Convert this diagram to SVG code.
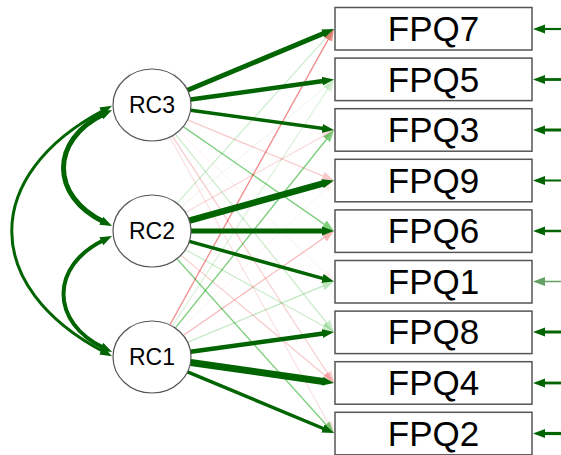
<svg xmlns="http://www.w3.org/2000/svg" width="561" height="455" viewBox="0 0 561 455">
  <style>
    .bg { fill: #ffffff; }
    .latent ellipse { fill: #ffffff; stroke: #555555; stroke-width: 1.2; }
    .latent text { font-family: "Liberation Sans", Arial, sans-serif; font-size: 23px; fill: #000000; text-anchor: middle; }
    .item rect { fill: #ffffff; stroke: #555555; stroke-width: 1.5; }
    .item text { font-family: "Liberation Sans", Arial, sans-serif; font-size: 35px; fill: #000000; text-anchor: middle; }
    .pos { fill: none; stroke: #006400; marker-end: url(#head-g); }
    .wpos { fill: none; stroke: #00a000; marker-end: url(#head-lg); }
    .neg { fill: none; stroke: #e00000; marker-end: url(#head-r); }
    .cov { fill: none; stroke: #006400; marker-start: url(#head-g); marker-end: url(#head-g); }
  </style>
  <defs>
    <marker id="head-g" markerUnits="userSpaceOnUse" viewBox="0 -5 12 10" markerWidth="12" markerHeight="10" refX="3" refY="0" orient="auto-start-reverse">
      <path d="M0,-4.5 L12,0 L0,4.5 z" fill="#006400"/>
    </marker>
    <marker id="head-lg" markerUnits="userSpaceOnUse" viewBox="0 -5 12 10" markerWidth="12" markerHeight="10" refX="3" refY="0" orient="auto">
      <path d="M0,-4.5 L12,0 L0,4.5 z" fill="#00a000"/>
    </marker>
    <marker id="head-r" markerUnits="userSpaceOnUse" viewBox="0 -5 12 10" markerWidth="12" markerHeight="10" refX="3" refY="0" orient="auto">
      <path d="M0,-4.5 L12,0 L0,4.5 z" fill="#e00000"/>
    </marker>
  </defs>

  <rect class="bg" x="0" y="0" width="561" height="455"/>

  <g id="connectors">
    <!-- weak cross-loadings -->
    <path class="neg" d="M187.5,119.8 L325.7,177.1" stroke-width="1.3" opacity="0.2"/>
    <path class="wpos" d="M183.2,126.6 L326.6,225.9" stroke-width="1.3" opacity="0.5"/>
    <path class="neg" d="M178.9,131.1 L327.5,275.2" stroke-width="1" opacity="0.06"/>
    <path class="wpos" d="M175.2,133.9 L328.4,325" stroke-width="1.2" opacity="0.2"/>
    <path class="neg" d="M172.2,135.8 L329.1,375.5" stroke-width="1.2" opacity="0.2"/>
    <path class="neg" d="M169.8,137 L329.6,425.6" stroke-width="1.1" opacity="0.12"/>

    <path class="wpos" d="M176.9,203.3 L328,35.7" stroke-width="1.2" opacity="0.2"/>
    <path class="wpos" d="M180.9,206.9 L327.1,85.3" stroke-width="1" opacity="0.08"/>
    <path class="neg" d="M185.4,212.4 L326.1,134.4" stroke-width="1.2" opacity="0.15"/>
    <path class="wpos" d="M185.4,249.6 L326.1,327.6" stroke-width="1.2" opacity="0.2"/>
    <path class="neg" d="M180.9,255.1 L327.1,377.2" stroke-width="1.2" opacity="0.2"/>
    <path class="wpos" d="M176.9,258.7 L328,426.8" stroke-width="1.3" opacity="0.5"/>

    <path class="neg" d="M169.8,325 L329.6,36.9" stroke-width="1.3" opacity="0.45"/>
    <path class="wpos" d="M172.2,326.2 L329.1,87" stroke-width="1.1" opacity="0.15"/>
    <path class="wpos" d="M175.2,328.1 L328.4,137" stroke-width="1.4" opacity="0.5"/>
    <path class="neg" d="M178.9,330.9 L327.5,186.8" stroke-width="1" opacity="0.06"/>
    <path class="neg" d="M183.2,335.4 L326.6,236.1" stroke-width="1.2" opacity="0.28"/>
    <path class="wpos" d="M187.5,342.2 L325.7,284.9" stroke-width="1.2" opacity="0.25"/>

    <!-- main loadings -->
    <path class="pos" d="M187.5,90.2 L325.7,32.5" stroke-width="5"/>
    <path class="pos" d="M190.6,99.6 L325.1,80.75" stroke-width="4.5"/>
    <path class="pos" d="M190.6,110.3 L325.1,128.8" stroke-width="3.5"/>
    <path class="pos" d="M189.3,220.6 L325.3,182.9" stroke-width="6.5"/>
    <path class="pos" d="M191,231 L325,231" stroke-width="5"/>
    <path class="pos" d="M189.3,241.4 L325.3,279.1" stroke-width="3.5"/>
    <path class="pos" d="M190.6,351.7 L325.1,333.2" stroke-width="4.5"/>
    <path class="pos" d="M190.6,362.5 L325.1,381.7" stroke-width="7"/>
    <path class="pos" d="M187.5,371.9 L325.7,429.5" stroke-width="3.5"/>

    <!-- residual variances -->
    <path class="pos" d="M561,29 L542,29" stroke-width="2.2"/>
    <path class="pos" d="M561,79.5 L542,79.5" stroke-width="2.8"/>
    <path class="pos" d="M561,130 L542,130" stroke-width="3"/>
    <path class="pos" d="M561,180.5 L542,180.5" stroke-width="2"/>
    <path class="pos" d="M561,231 L542,231" stroke-width="2.5"/>
    <path class="pos" d="M561,281.5 L542,281.5" stroke-width="1.5" opacity="0.6"/>
    <path class="pos" d="M561,332 L542,332" stroke-width="3"/>
    <path class="pos" d="M561,383 L542,383" stroke-width="2.8"/>
    <path class="pos" d="M561,433.5 L542,433.5" stroke-width="3.2"/>

    <!-- factor correlations -->
    <path class="cov" d="M104,110 C-19,175 -19,287 104,352" stroke-width="3"/>
    <path class="cov" d="M104,114 C50,140 50,196 104,222" stroke-width="5"/>
    <path class="cov" d="M104,240 C50,266 50,322 104,348" stroke-width="4"/>
  </g>

  <g id="RC3" class="latent">
    <ellipse cx="152" cy="105" rx="39" ry="36"/>
    <text x="152" y="113">RC3</text>
  </g>
  <g id="RC2" class="latent">
    <ellipse cx="152" cy="231" rx="39" ry="36"/>
    <text x="152" y="239">RC2</text>
  </g>
  <g id="RC1" class="latent">
    <ellipse cx="152" cy="357" rx="39" ry="36"/>
    <text x="152" y="365">RC1</text>
  </g>

  <g id="FPQ7" class="item">
    <rect x="335" y="7.5" width="197" height="42.5"/>
    <text x="433.5" y="41">FPQ7</text>
  </g>
  <g id="FPQ5" class="item">
    <rect x="335" y="58.1" width="197" height="42.5"/>
    <text x="433.5" y="91.5">FPQ5</text>
  </g>
  <g id="FPQ3" class="item">
    <rect x="335" y="108.7" width="197" height="42.5"/>
    <text x="433.5" y="142">FPQ3</text>
  </g>
  <g id="FPQ9" class="item">
    <rect x="335" y="159.3" width="197" height="42.5"/>
    <text x="433.5" y="192.5">FPQ9</text>
  </g>
  <g id="FPQ6" class="item">
    <rect x="335" y="209.9" width="197" height="42.5"/>
    <text x="433.5" y="243">FPQ6</text>
  </g>
  <g id="FPQ1" class="item">
    <rect x="335" y="260.5" width="197" height="42.5"/>
    <text x="433.5" y="293.5">FPQ1</text>
  </g>
  <g id="FPQ8" class="item">
    <rect x="335" y="311.1" width="197" height="42.5"/>
    <text x="433.5" y="344">FPQ8</text>
  </g>
  <g id="FPQ4" class="item">
    <rect x="335" y="361.7" width="197" height="42.5"/>
    <text x="433.5" y="395">FPQ4</text>
  </g>
  <g id="FPQ2" class="item">
    <rect x="335" y="412.3" width="197" height="42.5"/>
    <text x="433.5" y="445.5">FPQ2</text>
  </g>
</svg>
